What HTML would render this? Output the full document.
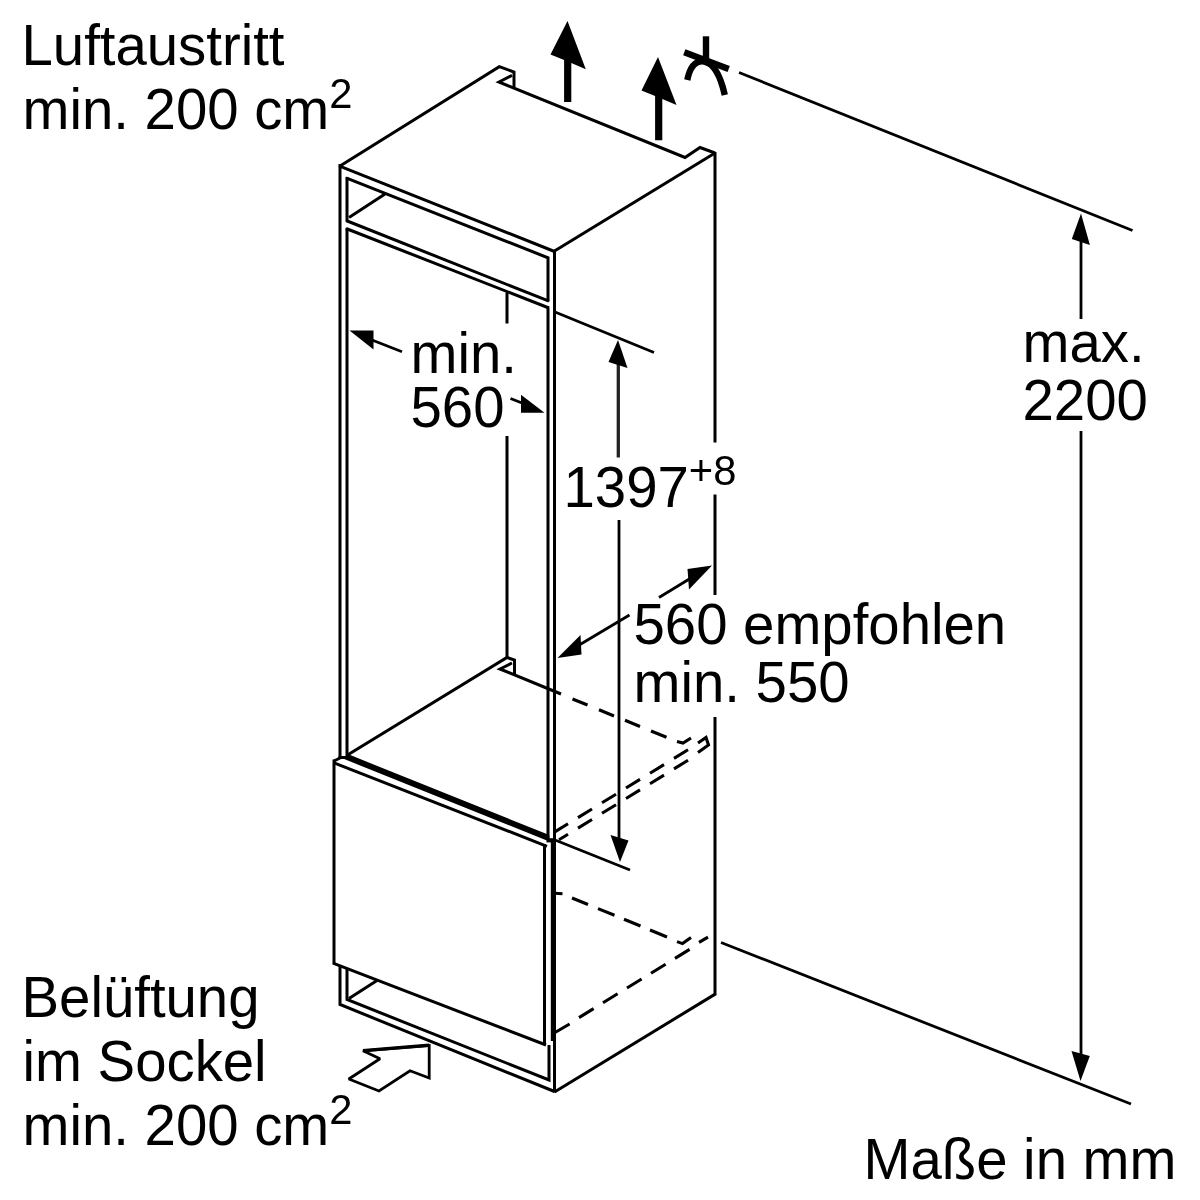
<!DOCTYPE html>
<html lang="de">
<head>
<meta charset="utf-8">
<title>Einbauma&szlig;e</title>
<style>
  html, body { margin: 0; padding: 0; background: #ffffff; }
  body { width: 1200px; height: 1200px; overflow: hidden; position: relative; }
  svg { position: absolute; left: 0; top: 0; display: block; filter: blur(0.55px); }
  .ln { fill: none; stroke: #000; stroke-width: 3; stroke-linecap: butt; stroke-linejoin: miter; stroke-miterlimit: 3; }
  .th { fill: none; stroke: #000; stroke-width: 2.4; }
  .dm { fill: none; stroke: #000; stroke-width: 2.8; }
  .da { fill: none; stroke: #000; stroke-width: 3.1; }
  .blk { fill: #000; stroke: none; }
  text { font-family: "Liberation Sans", sans-serif; font-size: 56px; fill: #000; }
  .sup { font-size: 41.5px; }
</style>
</head>
<body>
<svg width="1200" height="1200" viewBox="0 0 1200 1200">
  <rect x="0" y="0" width="1200" height="1200" fill="#ffffff"/>

  <!-- ===== cabinet: top face ===== -->
  <g class="ln">
    <path d="M340,166 L499.3,66.7 L514,72 L514,87"/>
    <path d="M512,75.3 L499,82 L685,157.5 L700,147.5 L715,153"/>
    <path d="M715,153 L554.5,251"/>
    <path d="M339,165.8 L554.5,251.5"/>
  </g>

  <!-- ===== cabinet: front frame ===== -->
  <g class="ln">
    <path d="M340,164 L340,758"/>
    <path d="M347,177 L347,221"/>
    <path d="M347,228 L347,757"/>
    <path d="M346,177.8 L548,257.8 L548,301.5"/>
    <path d="M548,307.5 L548,839"/>
    <path d="M554.5,251 L554.5,842"/>
    <path d="M346,220.5 L549,301.2"/>
    <path d="M346,228.5 L549,308"/>
    <path d="M349,217.5 L385,194"/>
    <path d="M507,292.5 L507,323.5"/>
    <path d="M507,436 L507,658"/>
  </g>

  <!-- ===== niche floor ===== -->
  <g class="ln">
    <path d="M347.5,755 L507,657.5 L514.5,660 L514.5,674"/>
    <path d="M512,663 L500,669 L561,694"/>
  </g>

  <!-- thick niche front edge + door top -->
  <path d="M345.5,756 L349,754.6 L549.3,835.1 L549.3,841.5 L340.5,757.6 Z" fill="#000" stroke="none"/>
  <path d="M546.5,840.3 L556,840.3" fill="none" stroke="#000" stroke-width="4.2"/>
  <path d="M338.5,757.5 L348.5,757.5" class="ln"/>
  <path d="M334,761 L341,757.5" class="ln"/>
  <path d="M334,762.8 L547,846.3" class="ln"/>

  <!-- ===== door ===== -->
  <g class="ln">
    <path d="M334,759.5 L334,964"/>
    <path d="M333,963.2 L546,1045"/>
    <path d="M544.5,844 L544.5,1045"/>
  </g>
  <path d="M553.4,841 L553.4,1041" fill="none" stroke="#000" stroke-width="5.2"/>

  <!-- ===== plinth ===== -->
  <g class="ln">
    <path d="M340,966 L340,1004.5 L554.5,1091.5"/>
    <path d="M347,969 L347,999.5 L549,1080 L549,1045"/>
    <path d="M554.5,1040 L554.5,1092.5"/>
    <path d="M349,998.5 L377,980.5"/>
  </g>

  <!-- ===== right side face ===== -->
  <g class="ln">
    <path d="M715,152 L715,442.5"/>
    <path d="M715,494.5 L715,595"/>
    <path d="M715,717 L715,994.5"/>
    <path d="M554.5,1092 L716,993.6"/>
  </g>

  <!-- ===== hidden (dashed) edges ===== -->
  <g class="da">
    <!-- niche floor back edge -->
    <path d="M572.5,699 L587.5,705 M599,709.7 L614,716 M625,720.3 L640,726.5 M651,731 L666.5,737.3"/>
    <path d="M677,741.5 L683,743 L691,738"/>
    <path d="M698,743 L706,737.5 L708.5,745 L698,752.5"/>
    <!-- double dashed going up-right -->
    <path d="M554,832.4 L568,823.8 M578,817.6 L592,809 M602,802.8 L616,794.2 M626,788 L640,779.4 M650,773.2 L664,764.6 M674,758.4 L688,749.8"/>
    <path d="M559,839.8 L568,834.3 M578,828.1 L592,819.5 M602,813.3 L616,804.7 M626,798.5 L640,789.9 M650,783.7 L664,775.1 M674,768.9 L688,760.3"/>
    <!-- lower set -->
    <path d="M555,893.2 L562.5,893.8 M572,898 L588,904.5 M598,908.6 L614.5,915.2 M624,919.2 L640.5,926 M650,930 L667,937"/>
    <path d="M677,941.6 L682.5,943.6 L691,937.5"/>
    <path d="M699,942.4 L708,937.2"/>
    <path d="M555,1032.5 L569.6,1024 M579,1017.6 L593.6,1008.6 M603,1002.8 L617.6,993.8 M627,988 L641.6,979 M651,973.2 L665.6,964.2 M675,958.4 L689.6,949.4"/>
  </g>

  <!-- ===== dimension: max. 2200 ===== -->
  <g class="dm">
    <path d="M739,72.5 L1132.5,230.5"/>
    <path d="M721,942.5 L1131,1104"/>
    <path d="M1081,240 L1081,319"/>
    <path d="M1081,431 L1081,1056"/>
  </g>
  <path class="blk" d="M1081,213.5 L1071.8,239 L1089.9,245 Z"/>
  <path class="blk" d="M1080.5,1081 L1071.5,1051 L1089.8,1056 Z"/>

  <!-- ===== dimension: 1397+8 ===== -->
  <g class="dm">
    <path d="M555,312 L654,352.5"/>
    <path d="M555,840 L630,870"/>
    <path d="M618.3,362 L618.3,457.5" stroke="#222" stroke-width="3.3"/>
    <path d="M619,520 L619,842"/>
  </g>
  <path class="blk" d="M618,340 L608.5,362 L627.5,368 Z"/>
  <path class="blk" d="M620,862 L610.5,835 L628.5,840.5 Z"/>

  <!-- ===== dimension: 560 depth ===== -->
  <g class="dm">
    <path d="M700,572.5 L659,597.5"/>
    <path d="M629.5,615 L570,650.5"/>
  </g>
  <path class="blk" d="M712,565.5 L687.5,569 L689,589.5 Z"/>
  <path class="blk" d="M557.5,658 L580.5,635 L581.5,654.5 Z"/>

  <!-- ===== dimension: min. 560 width ===== -->
  <g class="dm">
    <path d="M372,340 L402,351.7"/>
    <path d="M510.5,398.5 L522,403"/>
  </g>
  <path class="blk" d="M349.5,330.5 L373.5,330.5 L373.5,349.5 Z"/>
  <path class="blk" d="M544.5,412.8 L521,412.8 L521,394.8 Z"/>

  <!-- ===== air outlet arrows (solid) ===== -->
  <path class="blk" d="M567.5,21 L550.5,54.5 L564.1,60.1 L564.1,102 L571.3,102 L571.3,63.1 L585.8,69.2 Z"/>
  <path class="blk" d="M658,57 L641.5,90.5 L655.1,96.1 L655.1,140.3 L662.3,140.3 L662.3,99.1 L676.5,105 Z"/>

  <!-- ===== ceiling symbol ===== -->
  <g fill="none" stroke="#000" stroke-width="6.4" stroke-linecap="butt">
    <path d="M706,36.3 L706,61"/>
    <path d="M684.3,52.2 L728.7,69"/>
    <path d="M687.3,80 C690,66.5 696,60.5 704,61.5 C713.5,63 720.5,76 724.8,95"/>
  </g>

  <!-- ===== plinth air inlet arrow (hollow) ===== -->
  <path d="M363,1050.8 L429.2,1045.4 L429.2,1078 L410,1070.8 L379,1091 L348.8,1079 L380,1058.8 Z" fill="none" stroke="#000" stroke-width="2.8" stroke-linejoin="miter" stroke-miterlimit="2"/>
  <path d="M363,1050.6 L429.2,1045.2" fill="none" stroke="#000" stroke-width="3.4"/>

  <!-- ===== text ===== -->
  <text transform="translate(21.5,65.0) scale(1.006,1.03)">Luftaustritt</text>
  <text transform="translate(22.5,129.0) scale(1.006,1.03)">min. 200 cm<tspan class="sup" dy="-20.4">2</tspan></text>

  <text transform="translate(21.5,1017.4) scale(1.006,1.03)">Belüftung</text>
  <text transform="translate(22.5,1080.7) scale(1.006,1.03)">im Sockel</text>
  <text transform="translate(22.5,1144.7) scale(1.006,1.03)">min. 200 cm<tspan class="sup" dy="-20.4">2</tspan></text>

  <text transform="translate(410.5,373.2) scale(1.006,1.03)">min.</text>
  <text transform="translate(410.5,426.7) scale(1.006,1.03)">560</text>

  <text transform="translate(563.5,507.0) scale(1.006,1.03)">1397<tspan class="sup" dy="-21.4">+8</tspan></text>

  <text transform="translate(633.5,644.0) scale(1.006,1.03)">560 empfohlen</text>
  <text transform="translate(633.5,702.4) scale(1.006,1.03)">min. 550</text>

  <text transform="translate(1022.5,361.7) scale(1.006,1.03)">max.</text>
  <text transform="translate(1022.5,420.2) scale(1.006,1.03)">2200</text>

  <text transform="translate(863.5,1179.2) scale(1.006,1.03)">Maße in mm</text>
</svg>
</body>
</html>
